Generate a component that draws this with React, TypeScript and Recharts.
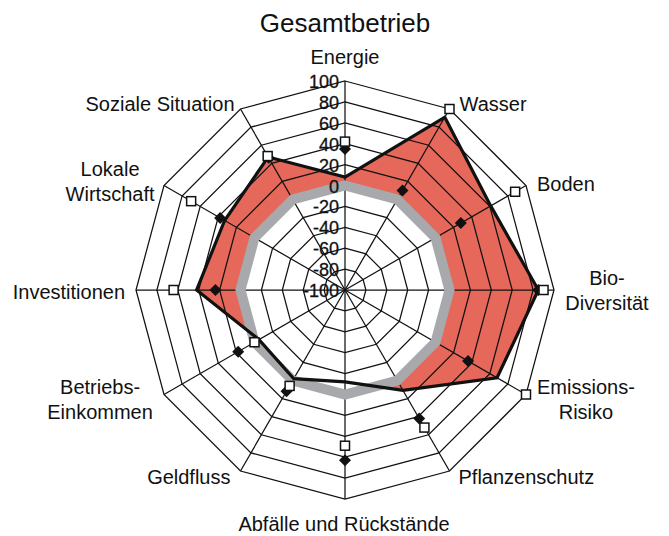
import React from "react";
import { RadarChart, Radar, PolarGrid, PolarAngleAxis, PolarRadiusAxis } from "recharts";

const categories = [
  "Energie",
  "Wasser",
  "Boden",
  "Bio-\nDiversität",
  "Emissions-\nRisiko",
  "Pflanzenschutz",
  "Abfälle und Rückstände",
  "Geldfluss",
  "Betriebs-\nEinkommen",
  "Investitionen",
  "Lokale\nWirtschaft",
  "Soziale Situation",
];

// black outline / red area
const istWerte = [8, 91, 61, 85, 68, 11, -12, -2, -5, 42, 33, 47];
// hollow squares
const zielWerte = [42, 100, 88, 90, 100, 52, 49, 6, 0, 64, 70, 48];
// filled diamonds
const vergleichWerte = [35, 10, 28, 85, 36, 42, 63, 12, 18, 24, 38, 46];

const radiusTicks = [-100, -80, -60, -40, -20, 0, 20, 40, 60, 80, 100];

const RED = "#e6685a";
const GRAY = "#a7a9ac";
const FONT = "'Liberation Sans', Arial, Helvetica, sans-serif";

// label placement relative to the angle-axis tick point
const labelLayout: Record<string, { anchor: "start" | "middle" | "end"; dx: number; dy: number }> = {
  Energie: { anchor: "middle", dx: 0, dy: -16 },
  Wasser: { anchor: "start", dx: 6, dy: 2 },
  Boden: { anchor: "start", dx: 4, dy: 2 },
  "Bio-\nDiversität": { anchor: "middle", dx: 45, dy: -12 },
  "Emissions-\nRisiko": { anchor: "middle", dx: 53, dy: -12 },
  Pflanzenschutz: { anchor: "start", dx: 5, dy: -1 },
  "Abfälle und Rückstände": { anchor: "middle", dx: -1, dy: 17 },
  Geldfluss: { anchor: "end", dx: -6, dy: -1 },
  "Betriebs-\nEinkommen": { anchor: "middle", dx: -57, dy: -12 },
  Investitionen: { anchor: "end", dx: -3, dy: 2 },
  "Lokale\nWirtschaft": { anchor: "middle", dx: -47, dy: -13 },
  "Soziale Situation": { anchor: "end", dx: -2, dy: 2 },
};

const rows = categories.map((name, i) => ({
  name,
  ist: istWerte[i],
  ziel: zielWerte[i],
  vergleich: vergleichWerte[i],
  null: 0,
}));

function AngleTick(props: any) {
  const { x, y, payload } = props;
  const lay = labelLayout[payload.value] || { anchor: "middle", dx: 0, dy: 0 };
  const lines = String(payload.value).split("\n");
  return (
    <text
      x={x + lay.dx}
      y={y + lay.dy}
      textAnchor={lay.anchor}
      dominantBaseline="central"
      fontSize={20}
      fontFamily={FONT}
      fill="#111"
    >
      {lines.map((l, i) => (
        <tspan key={i} x={x + lay.dx} dy={i === 0 ? 0 : 25}>
          {l}
        </tspan>
      ))}
    </text>
  );
}

function RadiusTick(props: any) {
  const { x, y, payload } = props;
  return (
    <text
      x={x - 6}
      y={y + 1}
      textAnchor="end"
      dominantBaseline="central"
      fontSize={18}
      fontFamily={FONT}
      fill="#111"
      stroke="#111"
      strokeWidth={0.3}
    >
      {payload.value}
    </text>
  );
}

const squareDot = (p: any) => (
  <rect key={`s${p.index}`} x={p.cx - 4.5} y={p.cy - 4.5} width={9} height={9} fill="#fff" stroke="#111" strokeWidth={1.5} />
);

const diamondDot = (p: any) => (
  <path
    key={`d${p.index}`}
    d={`M${p.cx},${p.cy - 6}L${p.cx + 6},${p.cy}L${p.cx},${p.cy + 6}L${p.cx - 6},${p.cy}Z`}
    fill="#111"
  />
);

export default function App() {
  return (
    <div style={{ position: "relative", width: 669, height: 536, background: "#fff" }}>
      <style>{`body{margin:0;}`}</style>
      <div
        style={{
          position: "absolute",
          top: 10,
          left: 0,
          width: 690,
          textAlign: "center",
          fontFamily: FONT,
          fontSize: 26,
          lineHeight: "26px",
          color: "#111",
        }}
      >
        Gesamtbetrieb
      </div>
      <RadarChart width={669} height={536} data={rows} cx={345} cy={290} outerRadius={209} margin={{ top: 0, right: 0, bottom: 0, left: 0 }}>
        <Radar dataKey="ist" fill={RED} fillOpacity={1} stroke="none" isAnimationActive={false} zIndex={100} />
        <Radar dataKey="null" fill="#fff" fillOpacity={1} stroke="none" isAnimationActive={false} zIndex={110} />
        <PolarGrid gridType="polygon" stroke="#111" strokeWidth={1.25} strokeOpacity={1} zIndex={120} />
        <Radar dataKey="null" fill="none" stroke={GRAY} strokeWidth={10} isAnimationActive={false} zIndex={130} />
        <Radar dataKey="ist" fill="none" stroke="#111" strokeWidth={3.2} strokeLinejoin="miter" isAnimationActive={false} zIndex={140} />
        <Radar dataKey="vergleich" fill="none" stroke="none" dot={diamondDot} isAnimationActive={false} zIndex={150} />
        <Radar dataKey="ziel" fill="none" stroke="none" dot={squareDot} isAnimationActive={false} zIndex={160} />
        <PolarAngleAxis dataKey="name" tick={AngleTick} tickLine={false} axisLine={false} zIndex={170} />
        <PolarRadiusAxis
          angle={90}
          type="number"
          domain={[-100, 100]}
          ticks={radiusTicks}
          tickCount={11}
          tick={RadiusTick}
          axisLine={false}
          tickLine={false}
          zIndex={180}
        />
      </RadarChart>
    </div>
  );
}
